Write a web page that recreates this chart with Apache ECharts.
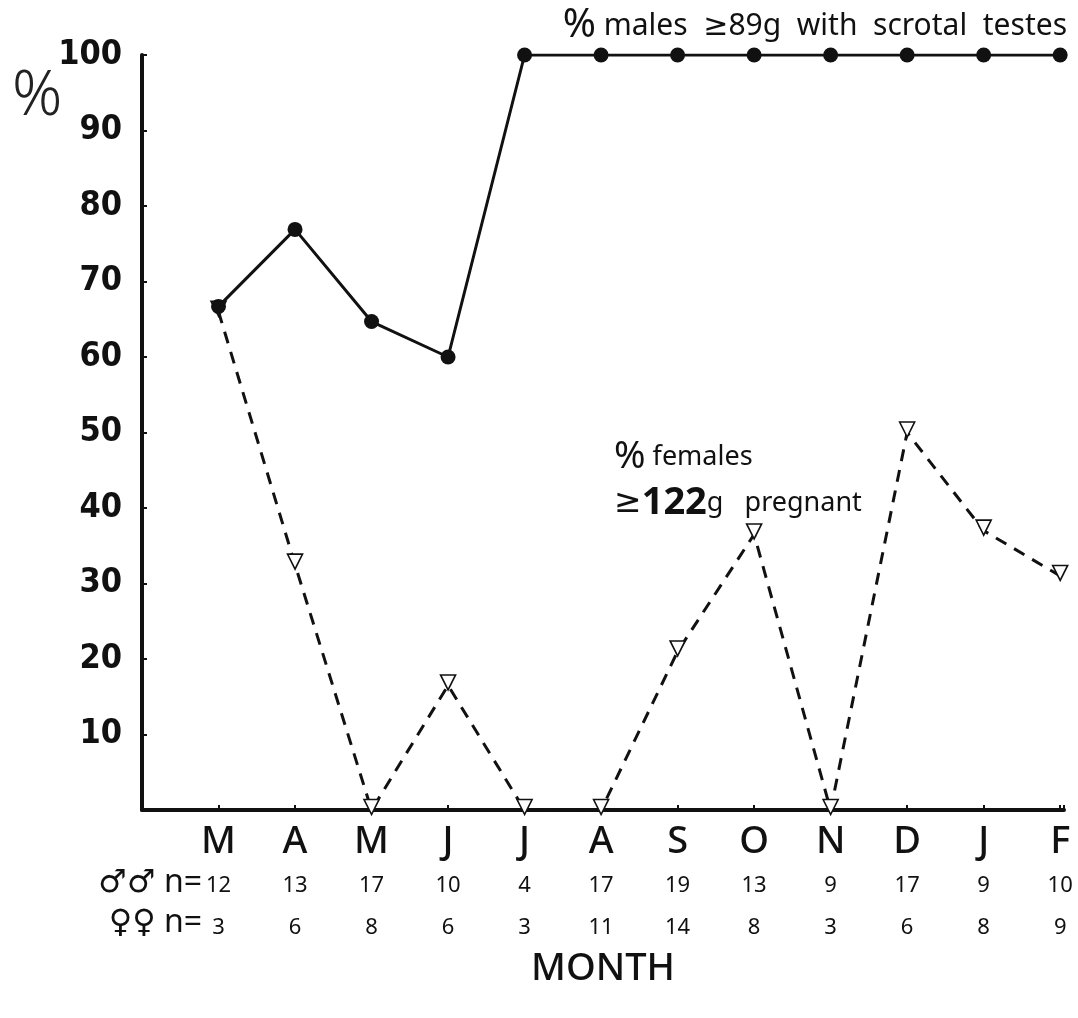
<!DOCTYPE html>
<html>
<head>
<meta charset="utf-8">
<script src="https://cdn.jsdelivr.net/npm/echarts@6/dist/echarts.min.js"></script>
<style>
  html, body { margin: 0; padding: 0; background: #fff; }
  #main { width: 1078px; height: 1018px; }
</style>
</head>
<body>
<div id="main"></div>
<script>
var months = ['M', 'A', 'M', 'J', 'J', 'A', 'S', 'O', 'N', 'D', 'J', 'F'];
var maleN = [12, 13, 17, 10, 4, 17, 19, 13, 9, 17, 9, 10];
var femaleN = [3, 6, 8, 6, 3, 11, 14, 8, 3, 6, 8, 9];
var malePct = [66.7, 76.9, 64.7, 60, 100, 100, 100, 100, 100, 100, 100, 100];
var femalePct = [66, 32.5, 0, 16.5, 0, 0, 21, 36.5, 0, 50, 37, 31];
var yTicks = [10, 20, 30, 40, 50, 60, 70, 80, 90, 100];

var geo = "'Noto Sans', 'DejaVu Sans', sans-serif";
var narrow = "'DejaVu Sans Condensed', 'DejaVu Sans', sans-serif";

function pairs(vals) {
  return vals.map(function (v, i) { return [i + 1, v]; });
}

var chart = echarts.init(document.getElementById('main'), null, { renderer: 'canvas' });

var option = {
  backgroundColor: '#fff',
  animation: false,
  title: {
    text: '{p|%} males  ≥89g  with  scrotal  testes',
    right: 6,
    top: 1,
    textStyle: {
      fontFamily: geo,
      fontWeight: 'normal',
      fontSize: 30,
      color: '#111',
      rich: {
        p: { fontSize: 40, fontFamily: geo, color: '#111' }
      }
    }
  },
  grid: {
    left: 142,
    right: 14,
    top: 55,
    bottom: 208
  },
  xAxis: {
    type: 'value',
    min: 0,
    max: 12.05,
    interval: 1,
    splitLine: { show: false },
    axisLine: { lineStyle: { color: '#111', width: 4 } },
    axisTick: { inside: true, length: 5, lineStyle: { color: '#111', width: 2 } },
    name: 'MONTH',
    nameLocation: 'middle',
    nameGap: 140,
    nameTextStyle: { fontFamily: geo, fontSize: 38, fontWeight: 500, color: '#111' },
    axisLabel: {
      margin: 9,
      showMaxLabel: true,
      formatter: function (v) {
        var i = Math.round(v) - 1;
        if (i < 0 || i > 11 || Math.abs(v - i - 1) > 0.01) return '';
        return '{m|' + months[i] + '}\n{a|' + maleN[i] + '}\n{b|' + femaleN[i] + '}';
      },
      rich: {
        m: { fontFamily: geo, fontSize: 38, fontWeight: 500, color: '#111', lineHeight: 46 },
        a: { fontFamily: geo, fontSize: 22, color: '#111', lineHeight: 42 },
        b: { fontFamily: geo, fontSize: 22, color: '#111', lineHeight: 42 }
      }
    }
  },
  yAxis: {
    type: 'value',
    min: 0,
    max: 100,
    interval: 10,
    splitLine: { show: false },
    axisLine: { lineStyle: { color: '#111', width: 4 } },
    axisTick: { inside: true, length: 5, lineStyle: { color: '#111', width: 2 } },
    axisLabel: {
      margin: 20,
      fontFamily: narrow,
      fontWeight: 'bold',
      fontSize: 34,
      color: '#111',
      formatter: function (v) { return yTicks.indexOf(v) >= 0 ? String(v) : ''; }
    }
  },
  graphic: [
    {
      type: 'text', left: 12, top: 66,
      style: { text: '%', fontFamily: geo, fontSize: 62, fontWeight: 300, fill: '#222' }
    },
    {
      type: 'text', right: 876, top: 867,
      style: { text: '♂♂ n=', fontFamily: geo, fontSize: 32, fill: '#111' }
    },
    {
      type: 'text', right: 876, top: 907,
      style: { text: '♀♀ n=', fontFamily: geo, fontSize: 32, fill: '#111' }
    },
    {
      type: 'text', left: 614, top: 434,
      style: {
        text: '{p|%} females\n{g|≥}{b|122}g   pregnant',
        fontFamily: geo, fontSize: 27, fill: '#111', lineHeight: 46,
        rich: {
          p: { fontSize: 38, fontFamily: geo, fill: '#111', lineHeight: 46 },
          g: { fontSize: 33, fontFamily: geo, fill: '#111', lineHeight: 46 },
          b: { fontSize: 38, fontFamily: geo, fontWeight: 'bold', fill: '#111', lineHeight: 46 }
        }
      }
    }
  ],
  series: [
    {
      name: 'females',
      type: 'line',
      data: pairs(femalePct),
      symbol: 'triangle',
      symbolRotate: 180,
      symbolSize: 15,
      symbolOffset: [0, -3],
      lineStyle: { color: '#111', width: 3, type: [12, 9] },
      itemStyle: { color: '#fff', borderColor: '#111', borderWidth: 1.6 },
      z: 3
    },
    {
      name: 'males',
      type: 'line',
      data: pairs(malePct),
      symbol: 'circle',
      symbolSize: 15,
      lineStyle: { color: '#111', width: 3 },
      itemStyle: { color: '#111' },
      z: 4
    }
  ]
};

chart.setOption(option);
</script>
</body>
</html>
